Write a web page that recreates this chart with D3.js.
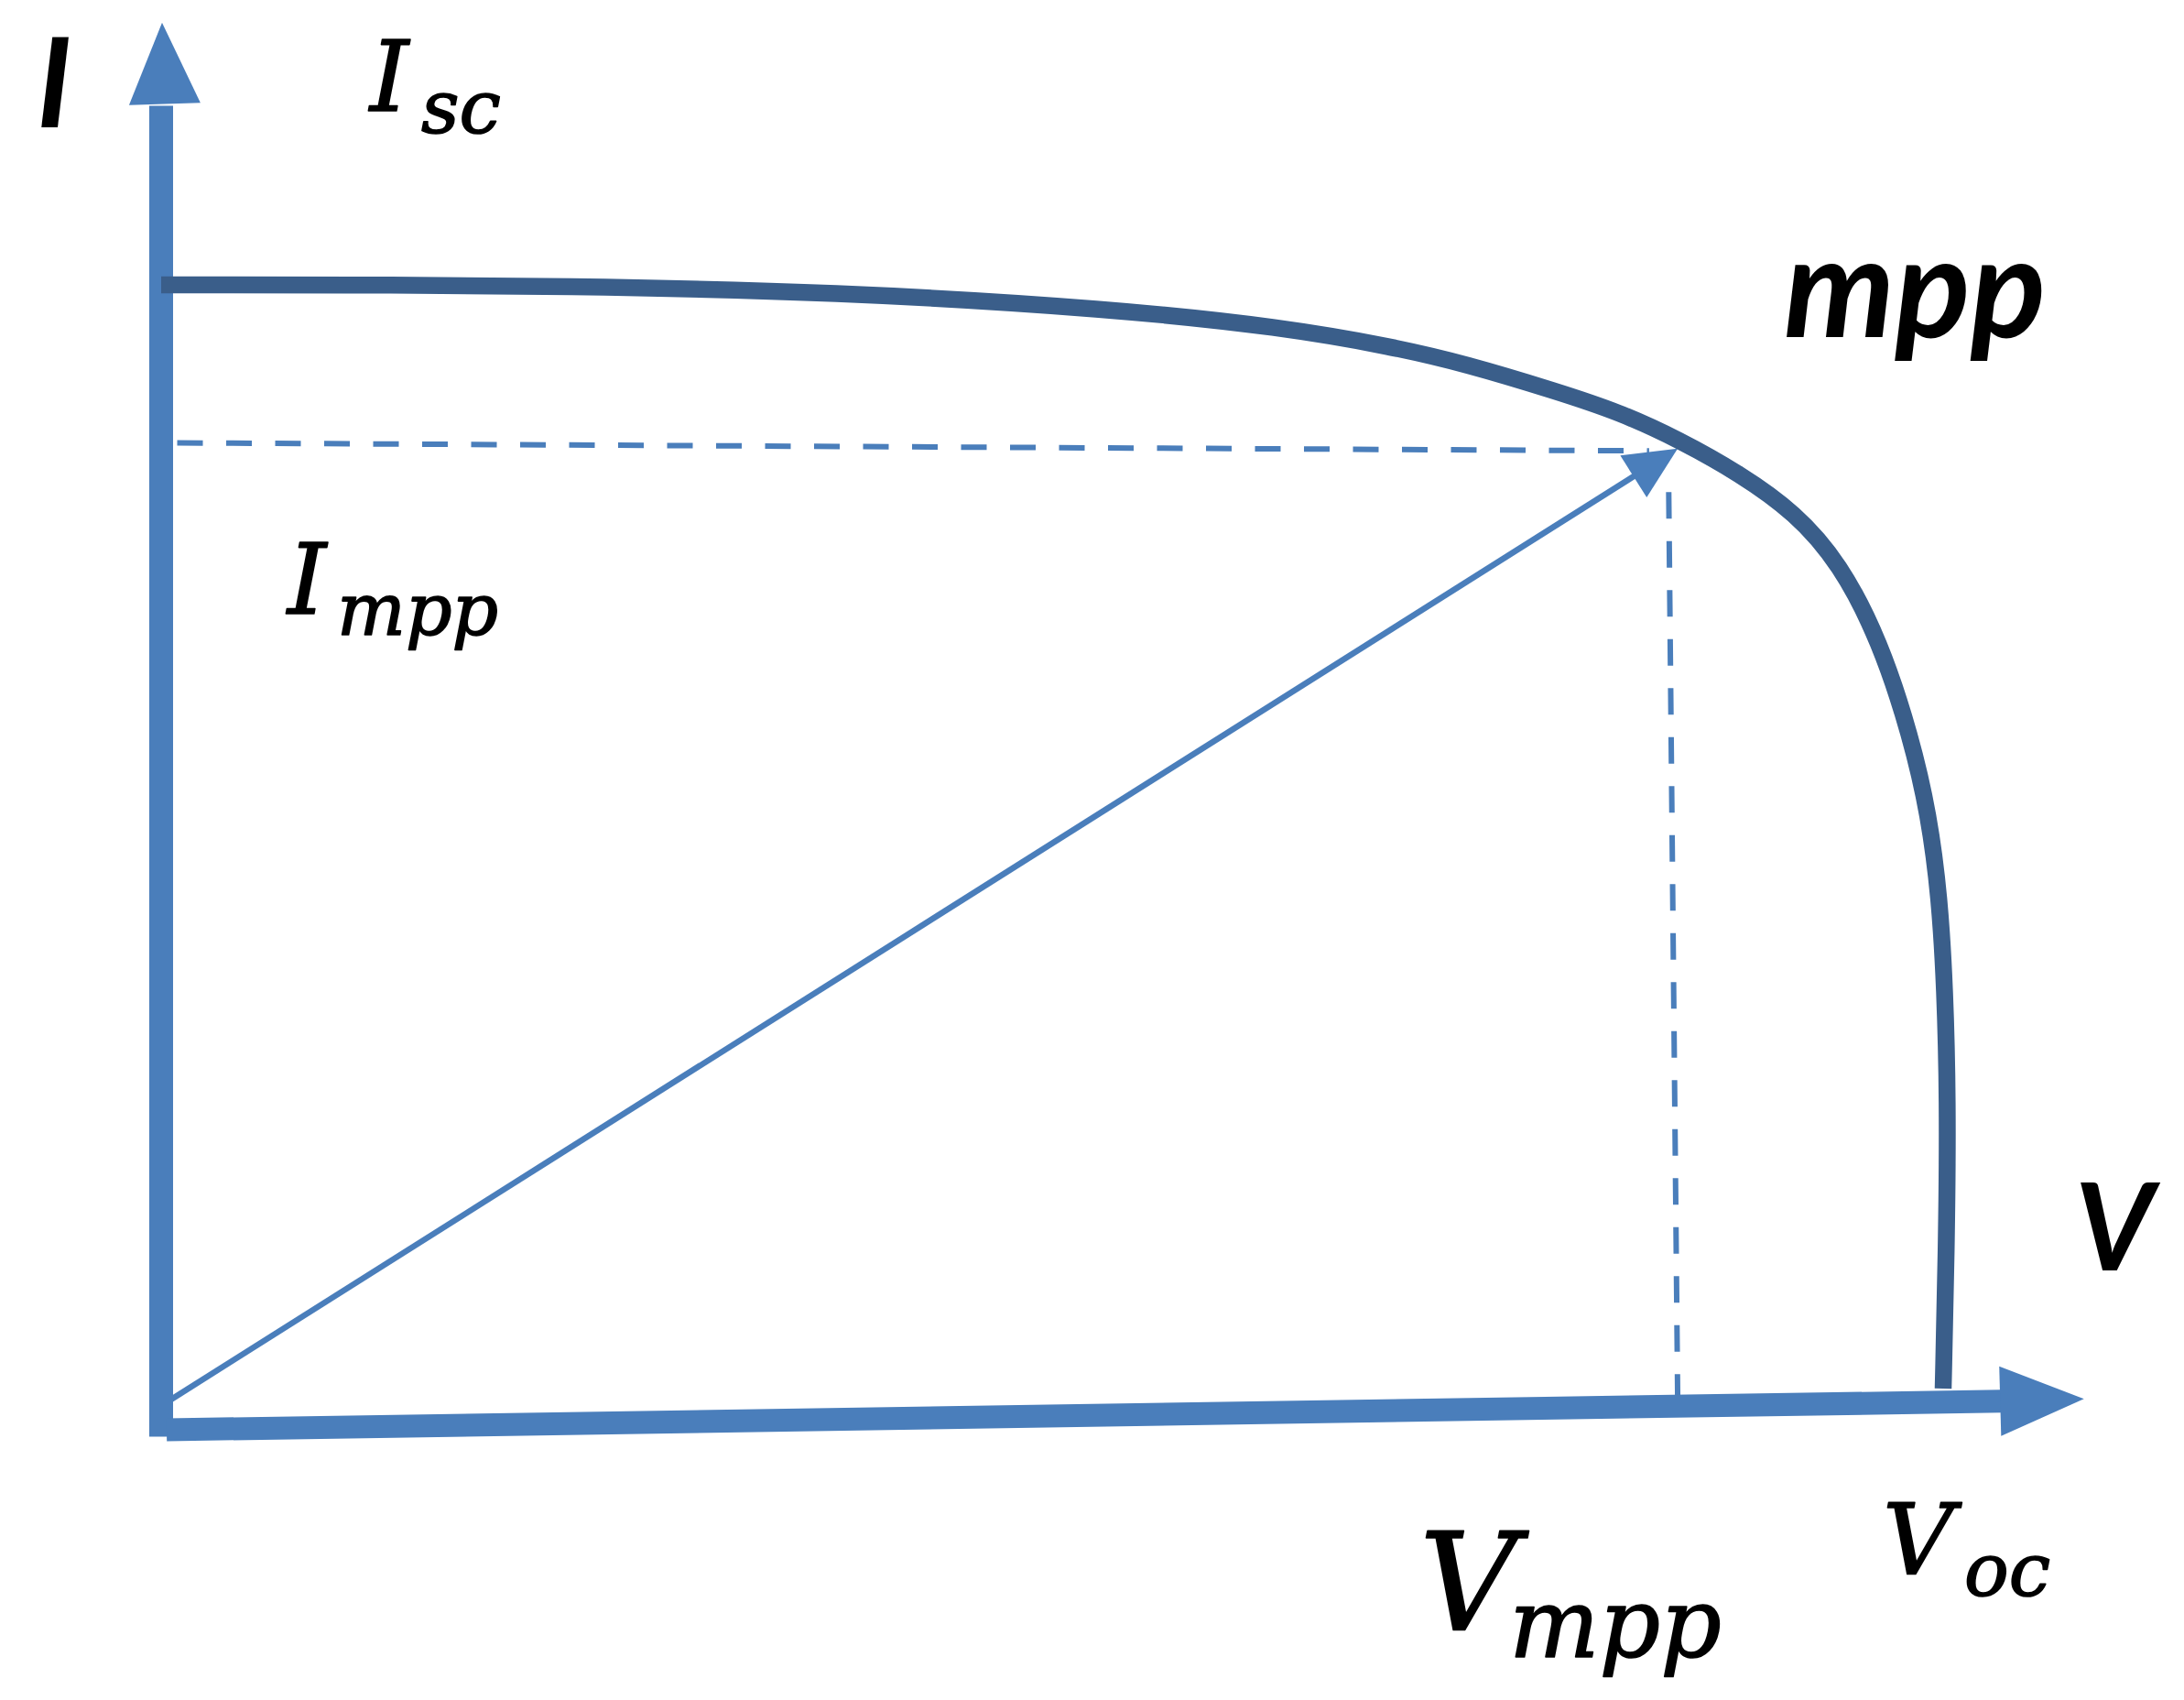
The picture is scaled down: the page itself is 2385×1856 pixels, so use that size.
<!DOCTYPE html>
<html>
<head>
<meta charset="utf-8">
<script src="https://cdn.jsdelivr.net/npm/d3@7"></script>
<style>
  html, body { margin: 0; padding: 0; background: #ffffff; overflow: hidden; }
  svg { display: block; }
</style>
</head>
<body>
<svg id="chart" width="2385" height="1856"></svg>
<script>
// ---------------- data (in % of Voc / Isc) ----------------
const voltage = [0, 11.5, 22.2, 37.9, 53.5, 62.9, 69.1, 73.2, 78.3, 81.8, 85.15, 88.6, 91.7, 94.2, 96.45, 98.2, 99.2, 99.8, 100.1, 100.26, 100.2, 100];
const current = [100, 100, 99.9, 99.4, 97.9, 96.3, 94.6, 93.1, 90.7, 88.9, 86.5, 83.5, 80.1, 75.7, 68.9, 60.5, 53.7, 46.5, 38.5, 28.9, 16.9, 3.6];
const mppPoint = [85.1, 85.7];            // [V, I] of the maximum power point (arrow tip)
const diagonalStart = [0, 2.1];           // origin of the load-line arrow
const hDashV = [0.9, 83.5];               // horizontal dashed line: V extent
const hDashI = [86.2, 85.5];              // horizontal dashed line: I at each end
const vDashV = [84.6, 85.1];              // vertical dashed line: V at each end
const vDashI = [81.9, 3.0];               // vertical dashed line: I extent
const xAxisV = [0, 103.2, 107.9];         // horizontal axis: start, arrow base, arrow tip
const xAxisI = [0, 2.5, 2.7];             // (hand-drawn slight tilt)
const yAxisV = [0, 0.2, 0.05];
const yAxisI = [-0.6, 115.8, 122.9];      // vertical axis: bottom, arrow base, arrow tip
const axisLabels = ["I", "V"];
const mppLabel = "mpp";
const pointMain = ["I", "I", "V", "V"];
const pointSub = ["sc", "mpp", "mpp", "oc"];

// ---------------- scales ----------------
const x = d3.scaleLinear().domain([0, 100]).range([176, 2122]);
const y = d3.scaleLinear().domain([0, 100]).range([1561, 311]);

const svg = d3.select("#chart");
svg.append("rect").attr("width", 2385).attr("height", 1856).attr("fill", "#ffffff");

const axisColor = "#4a7ebb";
const curveColor = "#3a5e8a";

function arrowHead(g, base, tip, halfW, color) {
  const dx = tip[0] - base[0], dy = tip[1] - base[1];
  const L = Math.hypot(dx, dy);
  const nx = -dy / L, ny = dx / L;
  const pts = [tip, [base[0] + nx * halfW, base[1] + ny * halfW], [base[0] - nx * halfW, base[1] - ny * halfW]];
  g.append("path")
    .attr("d", "M" + pts.map(p => p[0] + "," + p[1]).join("L") + "Z")
    .attr("fill", color);
}

const line = d3.line().x(d => x(d[0])).y(d => y(d[1]));

// ---------------- dashed guides ----------------
const guides = svg.append("g");
guides.append("path")
  .attr("d", line(hDashV.map((v, i) => [v, hDashI[i]])))
  .attr("fill", "none").attr("stroke", axisColor).attr("stroke-width", 6)
  .attr("stroke-dasharray", "28 25.5");
guides.append("path")
  .attr("d", line(vDashV.map((v, i) => [v, vDashI[i]])))
  .attr("fill", "none").attr("stroke", axisColor).attr("stroke-width", 6)
  .attr("stroke-dasharray", "29 24.5");

// ---------------- diagonal load-line arrow ----------------
const diag = svg.append("g");
const pStart = [x(diagonalStart[0]), y(diagonalStart[1])];
const pTip = [x(mppPoint[0]), y(mppPoint[1])];
{
  const dx = pTip[0] - pStart[0], dy = pTip[1] - pStart[1];
  const L = Math.hypot(dx, dy);
  const headLen = 57;
  const base = [pTip[0] - dx / L * headLen, pTip[1] - dy / L * headLen];
  diag.append("line")
    .attr("x1", pStart[0]).attr("y1", pStart[1])
    .attr("x2", base[0] + dx / L * 4).attr("y2", base[1] + dy / L * 4)
    .attr("stroke", axisColor).attr("stroke-width", 6.5);
  arrowHead(diag, base, pTip, 27, axisColor);
}

// ---------------- axes ----------------
const axes = svg.append("g");
// y axis
axes.append("line")
  .attr("x1", x(yAxisV[0])).attr("y1", y(yAxisI[0]))
  .attr("x2", x(yAxisV[0])).attr("y2", y(yAxisI[1]) + 2)
  .attr("stroke", axisColor).attr("stroke-width", 26);
arrowHead(axes, [x(yAxisV[1]), y(yAxisI[1])], [x(yAxisV[2]), y(yAxisI[2])], 39, axisColor);
// x axis
axes.append("line")
  .attr("x1", x(xAxisV[0]) + 6).attr("y1", y(xAxisI[0]))
  .attr("x2", x(xAxisV[1]) + 2).attr("y2", y(xAxisI[1]))
  .attr("stroke", axisColor).attr("stroke-width", 25);
arrowHead(axes, [x(xAxisV[1]), y(xAxisI[1])], [x(xAxisV[2]), y(xAxisI[2])], 38, axisColor);

// ---------------- I-V curve ----------------
svg.append("path")
  .datum(voltage.map((v, i) => [v, current[i]]))
  .attr("d", d3.line().x(d => x(d[0])).y(d => y(d[1])).curve(d3.curveBasis))
  .attr("fill", "none")
  .attr("stroke", curveColor)
  .attr("stroke-width", 18.5);

// ---------------- labels ----------------
const sansFont = "Lato, 'Open Sans', 'Liberation Sans', sans-serif";
const serifFont = "'DejaVu Serif', 'Liberation Serif', serif";
const labels = svg.append("g").attr("fill", "#000000");

// axis labels (bold italic sans)
labels.append("text").text(axisLabels[0])
  .attr("x", x(0) - 136).attr("y", y(yAxisI[2]) + 114)
  .attr("font-family", sansFont).attr("font-style", "italic").attr("font-weight", 700)
  .attr("font-size", 136);
labels.append("text").text(axisLabels[1])
  .attr("x", x(xAxisV[2]) - 10).attr("y", y(xAxisI[2]) - 140)
  .attr("font-family", sansFont).attr("font-style", "italic").attr("font-weight", 700)
  .attr("font-size", 133);
labels.append("text").text(mppLabel)
  .attr("x", x(mppPoint[0]) + 116).attr("y", y(mppPoint[1]) - 122)
  .attr("font-family", sansFont).attr("font-style", "italic").attr("font-weight", 700)
  .attr("font-size", 153);

// subscripted math labels (italic serif)
const subPos = [
  { x: 404, y: 121, size: 107, sx: 460, sy: 145, ssize: 81 },      // I_sc
  { x: 314, y: 670, size: 107, sx: 368, sy: 693, ssize: 79 },      // I_mpp
  { x: 1550, y: 1779, size: 148, sx: 1648, sy: 1809, ssize: 104 }, // V_mpp
  { x: 2056, y: 1718, size: 107, sx: 2145, sy: 1742, ssize: 81 }   // V_oc
];
pointMain.forEach((m, i) => {
  const p = subPos[i];
  const t = labels.append("text")
    .attr("font-family", serifFont).attr("font-style", "italic")
    .attr("stroke", "#000000").attr("stroke-width", 1.6).attr("stroke-linejoin", "round");
  t.append("tspan").attr("x", p.x).attr("y", p.y).attr("font-size", p.size).text(m);
  t.append("tspan").attr("x", p.sx).attr("y", p.sy).attr("font-size", p.ssize).text(pointSub[i]);
});
</script>
</body>
</html>
